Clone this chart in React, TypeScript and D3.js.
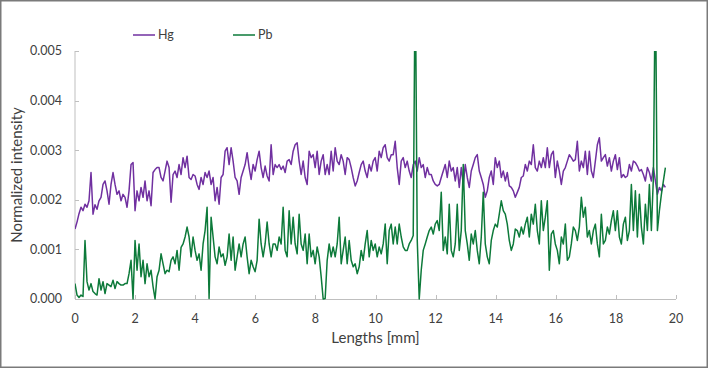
import React, { useEffect, useRef } from 'react';
import * as d3 from 'd3';

// sampling step along the scan (mm)
const STEP_MM = 0.0666;

// normalized intensity in units of 1e-3
const hgValues = [
	1.41, 1.55, 1.72, 1.85, 1.78, 1.91, 1.85, 1.98, 2.55, 1.71,
	1.90, 1.81, 1.98, 2.05, 2.31, 2.38, 2.18, 1.91, 2.31, 2.55,
	2.31, 2.11, 2.18, 1.98, 2.11, 2.05, 1.85, 2.18, 2.71, 2.75,
	1.78, 2.18, 1.98, 2.25, 2.05, 2.38, 1.98, 2.18, 1.88, 2.55,
	2.61, 2.65, 2.65, 2.45, 2.38, 2.58, 2.78, 2.65, 1.95, 2.51,
	2.58, 2.45, 2.71, 2.51, 2.85, 2.65, 2.88, 2.45, 2.41, 2.51,
	2.48, 2.31, 2.21, 2.45, 2.31, 2.55, 2.45, 2.58, 2.31, 2.45,
	1.98, 2.25, 1.91, 2.45, 2.51, 2.98, 3.05, 2.71, 3.05, 2.78,
	2.45, 2.38, 2.11, 2.45, 2.58, 2.71, 2.95, 2.65, 2.41, 2.71,
	2.58, 2.81, 2.98, 2.65, 2.45, 2.68, 2.48, 2.38, 3.11, 2.51,
	2.71, 2.65, 2.71, 2.61, 2.68, 2.55, 2.78, 2.81, 2.71, 2.98,
	3.11, 3.15, 2.78, 2.51, 2.78, 2.45, 2.31, 2.98, 2.85, 2.91,
	2.65, 2.98, 2.51, 2.78, 2.91, 2.51, 2.71, 2.51, 2.98, 2.58,
	3.05, 2.78, 2.71, 2.91, 2.78, 2.51, 2.85, 2.81, 2.65, 2.45,
	2.28, 2.38, 2.55, 2.71, 2.78, 2.58, 2.45, 2.71, 2.58, 2.78,
	2.85, 2.58, 2.98, 2.85, 3.05, 3.11, 2.85, 2.78, 2.91, 2.91,
	3.18, 2.65, 2.31, 2.78, 2.85, 2.65, 2.78, 2.58, 2.45, 2.71,
	2.78, 2.58, 2.85, 2.65, 2.71, 2.45, 2.65, 2.51, 2.51, 2.38,
	2.31, 2.28, 2.31, 2.45, 2.58, 2.71, 2.45, 2.78, 2.58, 2.65,
	2.38, 2.65, 2.25, 2.65, 2.31, 2.71, 2.45, 2.25, 2.58, 2.71,
	2.85, 2.91, 2.58, 2.45, 2.31, 2.05, 2.18, 2.45, 2.58, 2.31,
	2.85, 2.65, 2.78, 2.45, 2.58, 2.38, 2.55, 2.28, 2.25, 2.18,
	2.05, 2.15, 2.25, 2.45, 2.48, 2.71, 2.58, 2.78, 2.71, 3.11,
	2.65, 2.58, 2.78, 2.65, 2.85, 2.65, 3.05, 2.65, 2.91, 2.98,
	2.45, 2.78, 2.58, 2.31, 2.58, 2.65, 2.78, 2.91, 2.85, 2.78,
	2.81, 3.18, 2.58, 2.78, 2.65, 2.98, 2.51, 2.98, 2.58, 2.45,
	2.78, 3.11, 3.25, 2.78, 2.85, 2.91, 2.68, 2.85, 2.58, 2.78,
	2.91, 2.61, 2.85, 2.45, 2.51, 2.45, 2.48, 2.71, 2.58, 2.78,
	2.75, 2.68, 2.58, 2.61, 2.51, 2.38, 2.65, 2.55, 2.38, 2.65,
	2.38, 2.11, 2.25, 2.18, 2.31, 2.25,
];

const pbValues = [
	0.31, 0.08, 0.03, 0.08, 0.05, 1.18, 0.35, 0.18, 0.31, 0.15,
	0.11, 0.08, 0.41, 0.18, 0.35, 0.11, 0.31, 0.28, 0.25, 0.38,
	0.21, 0.35, 0.31, 0.28, 0.28, 0.31, 0.31, 0.51, 0.78, 0.00,
	1.18, 0.58, 1.11, 0.45, 0.78, 0.31, 0.71, 0.45, 0.58, 0.25,
	0.00, 0.45, 0.58, 0.91, 0.71, 0.51, 0.58, 0.55, 0.78, 0.85,
	0.71, 0.98, 0.58, 1.04, 1.11, 1.25, 1.45, 1.25, 0.85, 1.25,
	0.98, 0.78, 0.91, 0.58, 1.11, 1.38, 1.85, 0.01, 1.65, 1.25,
	0.85, 0.71, 1.05, 0.85, 0.91, 0.68, 0.85, 1.31, 0.78, 1.25,
	0.58, 0.85, 1.11, 0.85, 1.11, 1.25, 0.85, 0.51, 0.78, 0.65,
	0.55, 0.78, 1.61, 1.11, 0.85, 1.11, 1.55, 1.11, 0.85, 1.11,
	1.11, 0.98, 1.25, 1.11, 1.85, 0.98, 0.85, 1.78, 1.11, 1.65,
	1.11, 0.91, 1.71, 1.11, 0.98, 1.31, 0.71, 1.31, 0.85, 0.98,
	0.71, 1.05, 0.85, 0.45, 0.00, 0.01, 0.78, 1.11, 0.85, 1.05,
	0.85, 1.11, 1.65, 0.71, 0.98, 1.25, 0.71, 1.18, 0.78, 0.65,
	0.71, 0.51, 0.65, 0.98, 0.78, 1.11, 1.38, 0.85, 1.18, 0.98,
	1.11, 0.85, 1.05, 0.91, 1.11, 1.51, 0.71, 1.38, 1.51, 1.11,
	1.45, 1.11, 1.51, 1.25, 1.05, 0.98, 0.98, 1.11, 1.18, 1.28,
	6.80, 1.20, 0.00, 0.58, 0.98, 1.11, 1.25, 1.38, 1.45, 1.31,
	1.51, 1.58, 1.38, 2.15, 0.98, 1.25, 0.91, 1.91, 0.98, 0.85,
	1.11, 1.91, 0.98, 1.38, 2.71, 1.38, 1.11, 0.78, 1.31, 1.11,
	1.38, 0.98, 0.71, 1.25, 2.15, 1.11, 0.85, 0.71, 1.18, 1.38,
	1.51, 1.45, 1.71, 1.98, 1.78, 1.71, 1.51, 1.18, 0.98, 1.11,
	1.41, 1.38, 1.25, 1.45, 1.31, 1.51, 1.65, 1.25, 1.71, 1.51,
	1.91, 1.38, 1.11, 1.98, 1.38, 1.65, 1.98, 0.58, 1.31, 1.38,
	1.11, 0.98, 0.71, 1.25, 1.11, 1.51, 0.78, 0.85, 1.11, 1.45,
	1.38, 1.18, 1.45, 2.05, 1.65, 1.85, 1.25, 1.38, 1.11, 1.38,
	1.51, 1.11, 0.85, 1.71, 1.11, 1.18, 1.45, 1.31, 1.58, 1.78,
	1.38, 1.78, 1.25, 1.11, 1.51, 1.65, 1.18, 1.38, 2.31, 1.38,
	2.18, 1.25, 2.11, 1.45, 1.11, 1.91, 1.38, 2.31, 1.38, 2.45,
	6.60, 1.38, 1.78, 2.11, 2.38, 2.65,
];

const seriesNames = ['Hg', 'Pb'];
const seriesColors = ['#7030a0', '#0d7a3a'];
const xTicks = [0, 2, 4, 6, 8, 10, 12, 14, 16, 18, 20];
const yTicks = [0, 0.001, 0.002, 0.003, 0.004, 0.005];

export default function App() {
	const svgRef = useRef<SVGSVGElement>(null);

	useEffect(() => {
		const width = 708,
			height = 368;
		const margin = { top: 51, right: 32, bottom: 69, left: 75 };

		const svg = d3.select(svgRef.current);
		svg.selectAll('*').remove();

		const x = d3.scaleLinear().domain([0, 20]).range([margin.left, width - margin.right]);
		const y = d3.scaleLinear().domain([0, 0.005]).range([height - margin.bottom, margin.top]);

		const textColor = '#404040';
		const font = 'Lato, "Open Sans", sans-serif';

		// outer frame
		svg.append('rect')
			.attr('x', 0.75)
			.attr('y', 0.75)
			.attr('width', width - 1.5)
			.attr('height', height - 1.5)
			.attr('fill', '#fff')
			.attr('stroke', '#7a7a7a')
			.attr('stroke-width', 1.5);

		// axes lines
		const axisColor = '#bfbfbf';
		svg.append('line')
			.attr('x1', x(0)).attr('x2', x(0))
			.attr('y1', y(0.005)).attr('y2', y(0))
			.attr('stroke', axisColor);
		svg.append('line')
			.attr('x1', x(0)).attr('x2', x(20))
			.attr('y1', y(0) + 0.5).attr('y2', y(0) + 0.5)
			.attr('stroke', axisColor);

		// y ticks + labels
		svg.selectAll('.ytick')
			.data(yTicks)
			.enter()
			.append('line')
			.attr('class', 'ytick')
			.attr('x1', x(0)).attr('x2', x(0) + 4)
			.attr('y1', (d) => Math.round(y(d)) + 0.5)
			.attr('y2', (d) => Math.round(y(d)) + 0.5)
			.attr('stroke', axisColor);
		svg.selectAll('.ylabel')
			.data(yTicks)
			.enter()
			.append('text')
			.attr('class', 'ylabel')
			.attr('x', 62)
			.attr('y', (d) => y(d))
			.attr('dy', '0.35em')
			.attr('text-anchor', 'end')
			.style('font', `12.5px ${font}`)
			.attr('fill', textColor)
			.text((d) => d.toFixed(3));

		// x ticks + labels
		svg.selectAll('.xtick')
			.data(xTicks)
			.enter()
			.append('line')
			.attr('class', 'xtick')
			.attr('x1', (d) => Math.round(x(d)) + 0.5)
			.attr('x2', (d) => Math.round(x(d)) + 0.5)
			.attr('y1', y(0) - 4)
			.attr('y2', y(0))
			.attr('stroke', axisColor);
		svg.selectAll('.xlabel')
			.data(xTicks)
			.enter()
			.append('text')
			.attr('class', 'xlabel')
			.attr('x', (d) => x(d))
			.attr('y', 323)
			.attr('text-anchor', 'middle')
			.style('font', `12.5px ${font}`)
			.attr('fill', textColor)
			.text((d) => d);

		// axis titles
		svg.append('text')
			.attr('x', (x(0) + x(20)) / 2)
			.attr('y', 343)
			.attr('text-anchor', 'middle')
			.style('font', `15px ${font}`)
			.attr('fill', textColor)
			.text('Lengths [mm]');
		svg.append('text')
			.attr('transform', `translate(22, ${(y(0) + y(0.005)) / 2}) rotate(-90)`)
			.attr('text-anchor', 'middle')
			.style('font', `15px ${font}`)
			.attr('fill', textColor)
			.text('Normalized intensity');

		// clip so the off-scale spikes stop at the top
		svg.append('clipPath')
			.attr('id', 'plotClip')
			.append('rect')
			.attr('x', x(0))
			.attr('y', y(0.005))
			.attr('width', x(20) - x(0))
			.attr('height', y(0) - y(0.005) + 1.5);

		const series = [hgValues, pbValues].map((vals, k) => ({
			name: seriesNames[k],
			color: seriesColors[k],
			points: vals.map((v, i) => ({ len: i * STEP_MM, val: v * 1e-3 })),
		}));

		const line = d3.line<{ len: number; val: number }>()
			.x((d) => x(d.len))
			.y((d) => y(d.val));

		const plot = svg.append('g').attr('clip-path', 'url(#plotClip)');
		plot.selectAll('path.series')
			.data(series)
			.enter()
			.append('path')
			.attr('class', 'series')
			.attr('fill', 'none')
			.attr('stroke', (d) => d.color)
			.attr('stroke-width', 1.5)
			.attr('stroke-linejoin', 'round')
			.attr('d', (d) => line(d.points));

		// legend
		const legendX = [133, 233];
		const leg = svg.selectAll('.legend')
			.data(series)
			.enter()
			.append('g')
			.attr('class', 'legend')
			.attr('transform', (d, i) => `translate(${legendX[i]}, 35)`);
		leg.append('line')
			.attr('x1', 0).attr('x2', 22)
			.attr('y1', 0).attr('y2', 0)
			.attr('stroke', (d) => d.color)
			.attr('stroke-width', 1.5);
		leg.append('text')
			.attr('x', 25)
			.attr('dy', '0.35em')
			.style('font', `12.5px ${font}`)
			.attr('fill', textColor)
			.text((d) => d.name);
	}, []);

	return (
		<div>
			<style>{`body { margin: 0; }`}</style>
			<svg ref={svgRef} width={708} height={368} style={{ display: 'block' }}></svg>
		</div>
	);
}
